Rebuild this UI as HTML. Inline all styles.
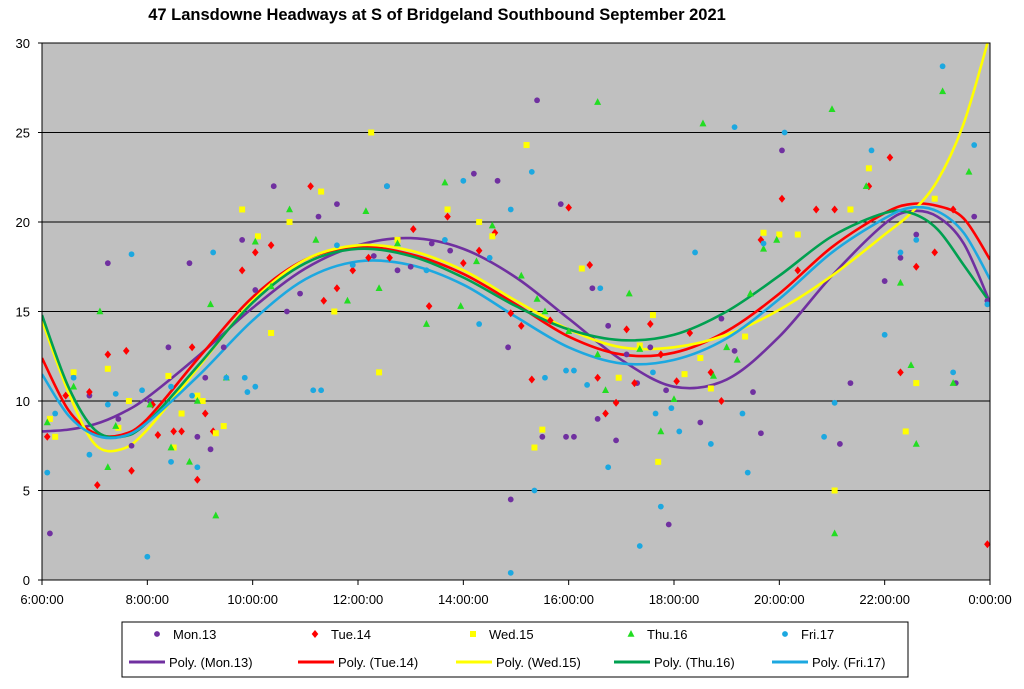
<!DOCTYPE html>
<html><head><meta charset="utf-8"><style>
body{margin:0;background:#fff;font-family:"Liberation Sans",Arial,sans-serif}
svg text{font-family:"Liberation Sans",Arial,sans-serif}
</style></head><body>
<svg id="chart" width="1024" height="684" xmlns="http://www.w3.org/2000/svg">
<rect width="1024" height="684" fill="#fff"/>
<text x="437" y="20" text-anchor="middle" font-size="16.5" font-weight="bold">47 Lansdowne Headways at S of Bridgeland Southbound September 2021</text>
<rect x="42" y="43" width="948" height="537" fill="#c0c0c0"/>
<g id="grid"></g><g id="axes"></g>
<defs><clipPath id="pc"><rect x="42" y="43" width="948" height="537"/></clipPath></defs>
<g id="curves" clip-path="url(#pc)"></g><g id="pts"></g>
<rect x="42" y="43" width="948" height="537" fill="none" stroke="#000" stroke-width="1"/>
<g id="legend"></g>
</svg>
<script>
const yTicks=[0,5,10,15,20,25,30];
const xTickHours=[6,8,10,12,14,16,18,20,22,24];
const xTickLabels=["6:00:00","8:00:00","10:00:00","12:00:00","14:00:00","16:00:00","18:00:00","20:00:00","22:00:00","0:00:00"];
const seriesNames=["Mon.13","Tue.14","Wed.15","Thu.16","Fri.17"];
const monPts=[[6.15,2.6],[6.6,11.5],[6.9,10.3],[7.25,17.7],[7.45,9],[7.7,7.5],[8.05,10],[8.4,13],[8.8,17.7],[8.95,8],[9.1,11.3],[9.2,7.3],[9.45,13],[9.8,19],[10.05,16.2],[10.4,22],[10.65,15],[10.9,16],[11.25,20.3],[11.6,21],[11.9,17.6],[12.3,18.1],[12.55,22],[12.75,17.3],[13,17.5],[13.4,18.8],[13.75,18.4],[14.2,22.7],[14.65,22.3],[14.85,13],[14.9,4.5],[15.4,26.8],[15.5,8],[15.85,21],[15.95,8],[16.1,8],[16.45,16.3],[16.55,9],[16.75,14.2],[16.9,7.8],[17.1,12.6],[17.3,11],[17.55,13],[17.85,10.6],[17.9,3.1],[18.5,8.8],[18.9,14.6],[19.15,12.8],[19.5,10.5],[19.65,8.2],[20.05,24],[21.15,7.6],[21.35,11],[22,16.7],[22.3,18],[22.6,19.3],[23.35,11],[23.7,20.3],[23.95,15.6]];
const tuePts=[[6.1,8],[6.45,10.3],[6.9,10.5],[7.05,5.3],[7.25,12.6],[7.6,12.8],[7.7,6.1],[8.1,9.8],[8.2,8.1],[8.5,8.3],[8.65,8.3],[8.85,13],[8.95,5.6],[9.1,9.3],[9.25,8.3],[9.8,17.3],[10.05,18.3],[10.35,18.7],[11.1,22],[11.35,15.6],[11.6,16.3],[11.9,17.3],[12.2,18],[12.6,18],[13.05,19.6],[13.35,15.3],[13.7,20.3],[14,17.7],[14.3,18.4],[14.6,19.4],[14.9,14.9],[15.1,14.2],[15.3,11.2],[15.65,14.5],[16,20.8],[16.4,17.6],[16.55,11.3],[16.7,9.3],[16.9,9.9],[17.1,14],[17.25,11],[17.55,14.3],[17.75,12.6],[18.05,11.1],[18.3,13.8],[18.7,11.6],[18.9,10],[19.65,19],[20.05,21.3],[20.35,17.3],[20.7,20.7],[21.05,20.7],[21.7,22],[22.1,23.6],[22.3,11.6],[22.6,17.5],[22.95,18.3],[23.3,20.7],[23.95,2]];
const wedPts=[[6.15,9],[6.25,8],[6.6,11.6],[7.25,11.8],[7.45,8.5],[7.65,10],[8.4,11.4],[8.5,7.4],[8.65,9.3],[8.95,10.3],[9.05,10],[9.3,8.2],[9.45,8.6],[9.8,20.7],[10.1,19.2],[10.35,13.8],[10.7,20],[11.3,21.7],[11.55,15],[12.25,25],[12.4,11.6],[12.75,19],[13.7,20.7],[14.3,20],[14.55,19.2],[15.2,24.3],[15.35,7.4],[15.5,8.4],[16.25,17.4],[16.95,11.3],[17.35,13.1],[17.6,14.8],[17.7,6.6],[18.2,11.5],[18.5,12.4],[18.7,10.7],[19.35,13.6],[19.7,19.4],[20,19.3],[20.35,19.3],[21.05,5],[21.35,20.7],[21.7,23],[22.4,8.3],[22.6,11],[22.95,21.3]];
const thuPts=[[6.1,8.8],[6.6,10.8],[7.1,15],[7.25,6.3],[7.4,8.6],[8.05,9.8],[8.45,7.4],[8.8,6.6],[8.95,10],[9.2,15.4],[9.3,3.6],[9.5,11.3],[10.05,18.9],[10.35,16.4],[10.7,20.7],[11.2,19],[11.8,15.6],[12.15,20.6],[12.4,16.3],[12.75,18.8],[13.3,14.3],[13.65,22.2],[13.95,15.3],[14.25,17.8],[14.55,19.8],[15.1,17],[15.4,15.7],[15.55,15],[16,13.9],[16.55,12.6],[16.55,26.7],[16.7,10.6],[17.15,16],[17.35,12.9],[17.75,8.3],[18,10.1],[18.55,25.5],[18.75,11.4],[19,13],[19.2,12.3],[19.45,16],[19.7,18.5],[19.95,19],[21,26.3],[21.05,2.6],[21.65,22],[22.3,16.6],[22.5,12],[22.6,7.6],[23.1,27.3],[23.3,11],[23.6,22.8]];
const friPts=[[6.1,6],[6.25,9.3],[6.6,11.3],[6.9,7],[7.25,9.8],[7.4,10.4],[7.7,18.2],[7.9,10.6],[8,1.3],[8.45,10.8],[8.45,6.6],[8.85,10.3],[8.95,6.3],[9.25,18.3],[9.5,11.3],[9.85,11.3],[9.9,10.5],[10.05,10.8],[11.15,10.6],[11.3,10.6],[11.6,18.7],[11.9,17.6],[12.55,22],[13.3,17.3],[13.65,19],[14,22.3],[14.3,14.3],[14.5,18],[14.9,20.7],[14.9,0.4],[15.3,22.8],[15.35,5],[15.55,11.3],[15.95,11.7],[16.1,11.7],[16.35,10.9],[16.6,16.3],[16.75,6.3],[17.35,1.9],[17.6,11.6],[17.65,9.3],[17.75,4.1],[17.95,9.6],[18.1,8.3],[18.4,18.3],[18.7,7.6],[19.15,25.3],[19.3,9.3],[19.4,6],[19.7,18.8],[20.1,25],[20.85,8],[21.05,9.9],[21.75,24],[22,13.7],[22.3,18.3],[22.6,19],[23.1,28.7],[23.3,11.6],[23.7,24.3],[23.95,15.4]];
const curveHours=[6,6.5,7,7.5,8,9,10,11,12,13,14,15,16,17,18,19,20,21,22,22.5,23,23.5,24];
const monFit=[8.3,8.4,8.7,9.3,10.2,12.6,15.2,17.4,18.7,19.1,18.5,16.9,14.6,12.3,10.8,11.2,13.6,17,19.9,20.6,20.3,18.8,15.5];
const tueFit=[12.4,9.5,8.2,8.1,9,12.5,15.8,17.9,18.6,18.2,17.1,15.4,13.6,12.6,12.7,13.9,16,18.6,20.5,21,20.9,20.2,17.9];
const wedFit=[14.5,10.5,7.6,7.3,8.4,12,15.6,17.9,18.7,18.4,17.3,15.6,14,13,13,13.7,15.1,17,19.3,20.5,22.3,25.5,30.5];
const thuFit=[14.8,10.8,8.4,8,8.8,12.1,15.5,17.7,18.5,18.1,16.9,15.3,14,13.4,13.7,15,17,19.2,20.5,20.5,19.6,17.6,15.5];
const friFit=[11.5,9.2,8.1,8,8.8,11.5,14.5,16.8,17.8,17.6,16.5,14.7,13,12.1,12.3,13.5,15.7,18.3,20.2,20.8,20.6,19.4,16.8];

const NS="http://www.w3.org/2000/svg";
const X=h=>42+(h-6)*948/18, Y=v=>580-v*537/30;
function mk(tag,parent,attrs){const e=document.createElementNS(NS,tag);for(const k in attrs)e.setAttribute(k,attrs[k]);document.getElementById(parent).appendChild(e);return e;}
yTicks.forEach(v=>{
  if(v>0&&v<30){const l=mk('line','grid',{x1:42,x2:990,y1:Y(v),y2:Y(v),stroke:'#000','stroke-width':1});
  
  }
  const t=mk('text','axes',{x:30,y:Y(v)+5,'text-anchor':'end','font-size':13});t.textContent=v;
  
  
  mk('line','axes',{x1:38,x2:42,y1:Y(v),y2:Y(v),stroke:'#000'});
});
xTickHours.forEach((h,i)=>{
  mk('line','axes',{x1:X(h),x2:X(h),y1:580,y2:585,stroke:'#000'});
  const t=mk('text','axes',{x:X(h),y:604,'text-anchor':'middle','font-size':13});t.textContent=xTickLabels[i];
  
  
});
const fills=['#7030a0','#ff0000','#ffff00','#22dd22','#1ca8e0'];
const lines=['#7030a0','#ff0000','#ffff00','#00a050','#1ca8e0'];
const pts=[monPts,tuePts,wedPts,thuPts,friPts];
const fits=[monFit,tueFit,wedFit,thuFit,friFit];
function marker(g,i,x,y){
  let e;
  if(i==0||i==4)e=mk('circle',g,{cx:x,cy:y,r:2.9,fill:fills[i]});
  else if(i==1)e=mk('polygon',g,{points:`${x},${y-4} ${x+3.3},${y} ${x},${y+4} ${x-3.3},${y}`,fill:fills[i]});
  else if(i==2)e=mk('rect',g,{x:x-3,y:y-3,width:6,height:6,fill:fills[i]});
  else e=mk('polygon',g,{points:`${x},${y-4} ${x+3.5},${y+2.8} ${x-3.5},${y+2.8}`,fill:fills[i]});
  return e;
}
function smooth(p){let d=`M${p[0][0]},${p[0][1]}`;for(let i=0;i<p.length-1;i++){const p0=p[Math.max(0,i-1)],p1=p[i],p2=p[i+1],p3=p[Math.min(p.length-1,i+2)];
 d+=` C${p1[0]+(p2[0]-p0[0])/6},${p1[1]+(p2[1]-p0[1])/6} ${p2[0]-(p3[0]-p1[0])/6},${p2[1]-(p3[1]-p1[1])/6} ${p2[0]},${p2[1]}`;}return d;}
pts.forEach((arr,i)=>{arr.forEach(([h,v])=>{const e=marker('pts',i,X(h),Y(v));
  
  });});
fits.forEach((f,i)=>{const p=curveHours.map((h,j)=>[X(h),Y(f[j])]);
  const e=mk('path','curves',{d:smooth(p),fill:'none',stroke:lines[i],'stroke-width':2.6});
  
  });
const lb=mk('rect','legend',{x:122,y:622,width:786,height:55,fill:'#fff',stroke:'#000'});


const mx=[157,315,473,631,785], lx=[129,298,456,614,772];
seriesNames.forEach((n,i)=>{
  const m=marker('legend',i,mx[i],634);
  
  
  const t=mk('text','legend',{x:mx[i]+16,y:639,'font-size':13});t.textContent=n;
  
  
  const l=mk('line','legend',{x1:lx[i],x2:lx[i]+36,y1:662,y2:662,stroke:lines[i],'stroke-width':3});
  
  
  const t2=mk('text','legend',{x:lx[i]+40,y:667,'font-size':13});t2.textContent='Poly. ('+n+')';
  
  
});
</script>
</body></html>
